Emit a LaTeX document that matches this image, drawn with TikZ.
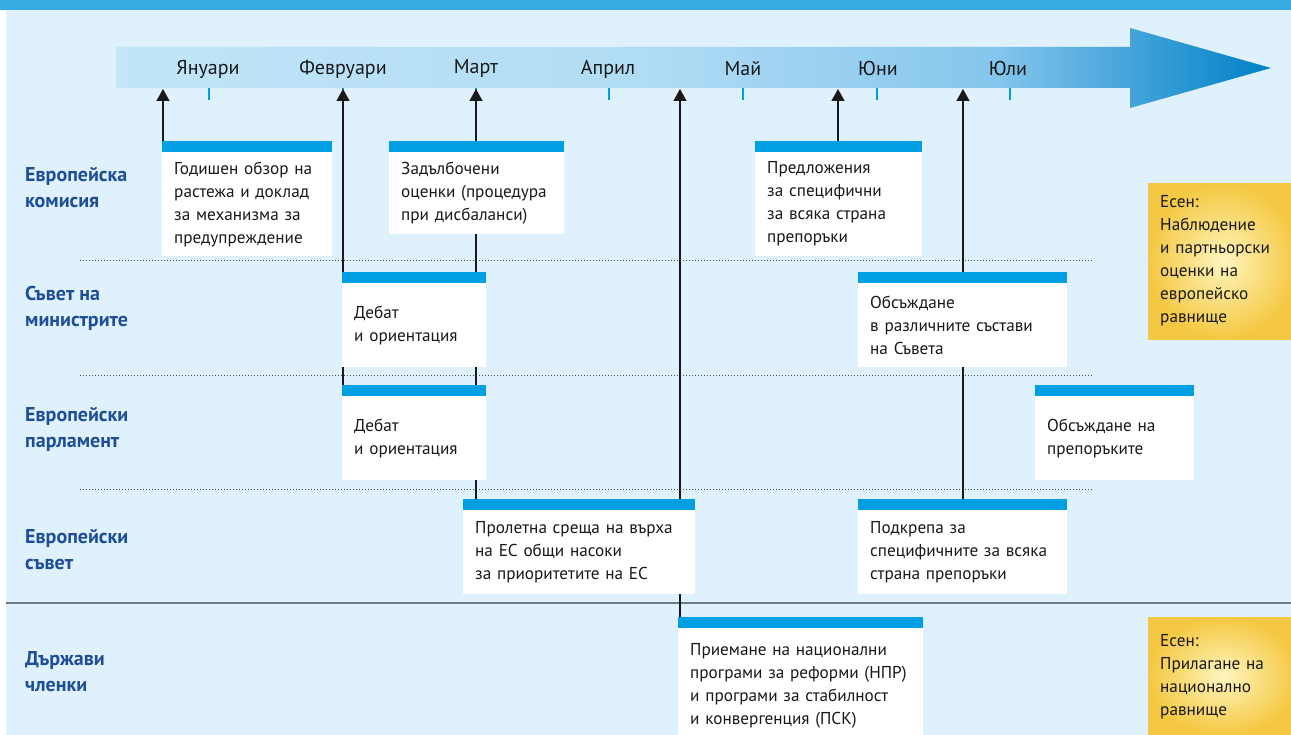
\documentclass[tikz,border=0pt]{standalone}
\usepackage{fontspec}
\setmainfont{PT Sans}
\usetikzlibrary{positioning,arrows.meta,calc}
\definecolor{bgblue}{HTML}{DFF1FC}
\definecolor{topblue}{HTML}{36ABE2}
\definecolor{barblue}{HTML}{009FE3}
\definecolor{rowblue}{HTML}{1F4E99}
\definecolor{tlA}{HTML}{C2E5F8}
\definecolor{tlB}{HTML}{B0DCF5}
\definecolor{tlC}{HTML}{86C6EC}
\definecolor{tlD}{HTML}{0080C6}
\definecolor{goldA}{HTML}{FFF5BE}
\definecolor{goldB}{HTML}{F4C842}
\definecolor{rulegray}{HTML}{6F7B84}
\def\evfont{\fontsize{17.2}{23}\selectfont}
\def\rowfont{\fontsize{20}{26}\selectfont\bfseries}
\pgfdeclarehorizontalshading{timeline}{100bp}{color(0bp)=(tlA); color(25bp)=(tlA); color(48bp)=(tlB); color(63bp)=(tlC); color(75bp)=(tlD); color(100bp)=(tlD)}
\pgfdeclarelayer{back}
\pgfdeclarelayer{lines}
\pgfsetlayers{back,lines,main}
\tikzstyle{evbox} = [fill=white, anchor=north west, inner xsep=12pt, inner ysep=0pt, align=left, font=\evfont, text=black!90]
\tikzstyle{autumn} = [anchor=north west, inner color=goldA, outer color=goldB, inner xsep=12pt, inner ysep=0pt, align=left, font=\evfont, text=black!90]
\tikzstyle{rowlabel} = [anchor=west, align=left, inner sep=0pt, text=rowblue, font=\rowfont]
\tikzstyle{monthlabel} = [inner sep=0pt, font=\fontsize{20}{24}\selectfont, text=black!90]
\tikzstyle{monthtick} = [barblue, line width=1.3pt]
\tikzstyle{rowsep} = [black!70, line width=0.9pt, dash pattern=on 0.9pt off 2.1pt]
\tikzstyle{tlarrow} = [black!90, line width=1.3pt, -{Triangle[length=12pt,width=13pt]}]

\begin{document}
\begin{tikzpicture}[x=1pt,y=-1pt]
      \useasboundingbox (0,0) rectangle (1291,735);
      \begin{pgfonlayer}{back}
      \fill[white] (0,0) rectangle (1291,735);
      \fill[bgblue] (6,0) rectangle (1291,735);
      \fill[topblue] (0,0) rectangle (1291,10);
      %timeline
      \shade[shading=timeline] (116,47) -- (1130,47) -- (1130,28) -- (1271,68) -- (1130,108) -- (1130,88) -- (116,88) -- cycle;
      \foreach \x in {209,343,476,609,743,877,1010}
        \draw[monthtick] (\x,88) -- (\x,100);
      \foreach \y in {260,375,489}
        \draw[rowsep] (80,\y) -- (1092,\y);
      \draw[rulegray, line width=2pt] (6,603) -- (1291,603);
      \end{pgfonlayer}
      \node[monthlabel] (jan) at (208,69) {Януари};
      \node[monthlabel] (feb) at (343,69) {Февруари};
      \node[monthlabel] (mar) at (476,69) {Март};
      \node[monthlabel] (apr) at (608,69) {Април};
      \node[monthlabel] (may) at (743,69) {Май};
      \node[monthlabel] (jun) at (878,69) {Юни};
      \node[monthlabel] (jul) at (1008,69) {Юли};
      \node[rowlabel] (ec) at (25,188) {Европейска\\комисия};
      \node[rowlabel] (cm) at (25,308) {Съвет на\\министрите};
      \node[rowlabel] (ep) at (25,429) {Европейски\\парламент};
      \node[rowlabel] (es) at (25,550) {Европейски\\съвет};
      \node[rowlabel] (ms) at (25,672) {Държави\\членки};
      \node[evbox, text width=146pt, minimum height=104pt] (ec1) at (162,152) {Годишен обзор на\\растежа и доклад\\за механизма за\\предупреждение};
      \node[evbox, text width=151pt, minimum height=82pt] (ec2) at (389,152) {Задълбочени\\оценки (процедура\\при дисбаланси)};
      \node[evbox, text width=143pt, minimum height=104pt] (ec3) at (755,152) {Предложения\\за специфични\\за всяка страна\\препоръки};
      \node[evbox, text width=120pt, minimum height=84pt] (cm1) at (342,283) {Дебат\\и ориентация};
      \node[evbox, text width=185pt, minimum height=84pt] (cm2) at (858,283) {Обсъждане\\в различните състави\\на Съвета};
      \node[evbox, text width=120pt, minimum height=84pt] (ep1) at (342,396) {Дебат\\и ориентация};
      \node[evbox, text width=135pt, minimum height=84pt] (ep2) at (1035,396) {Обсъждане на\\препоръките};
      \node[evbox, text width=208pt, minimum height=84pt] (es1) at (463,510) {Пролетна среща на върха\\на ЕС общи насоки\\за приоритетите на ЕС};
      \node[evbox, text width=185pt, minimum height=84pt] (es2) at (858,510) {Подкрепа за\\специфичните за всяка\\страна препоръки};
      \node[evbox, text width=221pt, minimum height=116pt] (ms1) at (678,628) {Приемане на национални\\програми за реформи (НПР)\\и програми за стабилност\\и конвергенция (ПСК)};
      \foreach \n in {ec1,ec2,ec3,cm1,cm2,ep1,ep2,es1,es2,ms1}
        \fill[barblue] (\n.north west) rectangle ([yshift=11pt]\n.north east);
      \node[autumn, text width=126pt, minimum height=156pt] (fall1) at (1148,183) {Есен:\\Наблюдение\\и партньорски\\оценки на\\европейско\\равнище};
      \node[autumn, text width=126pt, minimum height=118pt] (fall2) at (1148,617) {Есен:\\Прилагане на\\национално\\равнище};
      \coordinate (up1) at (163,89);
      \coordinate (up2) at (343,89);
      \coordinate (up3) at (476,89);
      \coordinate (up4) at (680,89);
      \coordinate (up5) at (838,89);
      \coordinate (up6) at (963,89);
      \begin{pgfonlayer}{lines}
      \draw[tlarrow] (ec1.north west -| up1) -- (up1);
      \draw[tlarrow] (ep1.north west -| up2) -- (up2);
      \draw[tlarrow] (es1.north -| up3) -- (up3);
      \draw[tlarrow] (ms1.north -| up4) -- (up4);
      \draw[tlarrow] (ec3.north -| up5) -- (up5);
      \draw[tlarrow] (es2.north -| up6) -- (up6);
      \end{pgfonlayer}
\end{tikzpicture}
\end{document}
